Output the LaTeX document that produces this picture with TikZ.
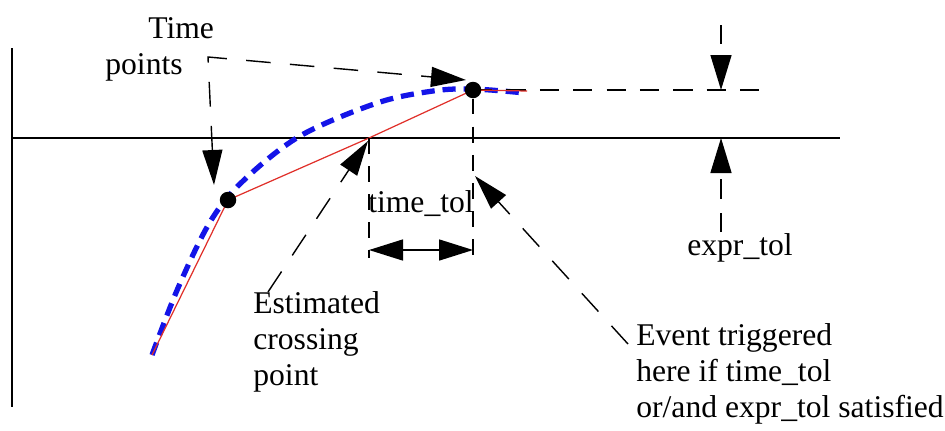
\documentclass[tikz,border=0pt]{standalone}
\usepackage{fontspec}
\setmainfont{Liberation Serif}
\usepackage{xcolor}
\usepackage{tikz}
\usetikzlibrary{arrows.meta,positioning,calc}
\definecolor{cAxis}{HTML}{000000}
\definecolor{cCurve}{HTML}{1414E8}
\definecolor{cLin}{HTML}{E0302A}
\tikzset{
  axisln/.style={line width=0.9pt, cAxis},
  curve/.style={line width=3pt, cCurve, dash pattern=on 7.5pt off 4.5pt},
  linseg/.style={line width=0.7pt, cLin},
  guide/.style={line width=0.8pt, cAxis, dash pattern=on 11pt off 8pt},
  lead/.style={guide, dash pattern=on 14pt off 11pt, -{Triangle[length=7mm,width=4mm]}},
  biglead/.style={guide, dash pattern=on 14pt off 11pt, {Triangle[length=7mm,width=4mm]}-{Triangle[length=7mm,width=4mm]}},
  tolarr/.style={guide, -{Triangle[length=7mm,width=4.2mm]}},
  dimarr/.style={line width=0.9pt, cAxis, {Triangle[length=6.8mm,width=4.2mm]}-{Triangle[length=6.8mm,width=4.2mm]}},
  dot/.style={circle, fill=cAxis, inner sep=0pt, minimum size=3.3mm},
  lbl/.style={font=\fontsize{18}{20.5}\selectfont, align=left, inner sep=0pt}
}

\begin{document}
\begin{tikzpicture}[x=0.02cm, y=-0.02cm]
\useasboundingbox (0,0) rectangle (945,430);
% ----- axes -----
\coordinate (ytop) at (12,48);
\coordinate (ybot) at (12,407);
\coordinate (org) at (12,138);
\coordinate (xend) at (840,138);
\draw[axisln] (ytop) -- (ybot);
\draw[axisln] (org) -- (xend);
% ----- true curve and linear estimate -----
\coordinate (p0) at (152,355);
\coordinate (pt1) at (228,200);
\coordinate (cross) at (369,138);
\coordinate (pt2) at (473,90);
\coordinate (pend) at (527,91);
\draw[curve] plot[smooth, tension=0.55] coordinates {(152,355) (178,288) (210,222) (243,181) (300,136) (377,103) (433,91) (473,89) (525,93)};
\draw[guide] (pt2) -- ++(293,0) coordinate (gend);
\draw[linseg] (p0) -- (pt1) -- (cross) -- (pt2) -- (pend);
\node[dot] (tp1) at (pt1) {};
\node[dot] (tp2) at (pt2) {};
% ----- time_tol -----
\coordinate (d1) at (369,258);
\coordinate (d2) at (473,258);
\draw[guide, dash pattern=on 9pt off 7pt] (cross) -- (d1);
\draw[guide, dash pattern=on 9pt off 7pt] (tp2) -- (d2);
\draw[dimarr] ($(d1)+(0,-8)$) -- ($(d2)+(0,-8)$);
\node[lbl, anchor=base] (ttol) at (421,212) {time\_tol};
% ----- expr_tol -----
\coordinate (e1) at (721,25);
\coordinate (e1tip) at (721,90);
\coordinate (e2) at (721,232);
\coordinate (e2tip) at (721,138);
\draw[tolarr] (e1) -- (e1tip);
\draw[tolarr] (e2) -- (e2tip);
\node[lbl, anchor=base] (etol) at (740,255) {expr\_tol};
% ----- labels and leaders -----
\node[lbl, anchor=north west] (tpts) at (105,17) {\hspace*{0.86cm}Time\\points};
\coordinate (tcorner) at (208,57);
\coordinate (tip1) at (214,185);
\coordinate (tip2) at (466,80);
\draw[biglead] (tip1) -- (tcorner) -- (tip2);
\node[lbl, anchor=north west] (est) at (253,291) {Estimated\\crossing\\point};
\coordinate (estend) at (268,292);
\draw[lead] (estend) -- ($(cross)+(-1,3)$);
\node[lbl, anchor=north west] (evt) at (636,323) {Event triggered\\here if time\_tol\\or/and expr\_tol satisfied};
\coordinate (evtend) at (628,344);
\coordinate (evttip) at (475,176);
\draw[lead] (evtend) -- (evttip);
\end{tikzpicture}
\end{document}
